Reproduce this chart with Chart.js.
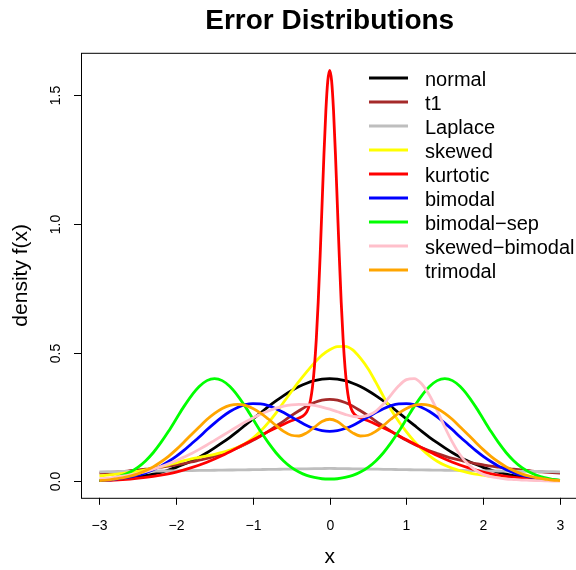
<!DOCTYPE html>
<html lang="en">
<head>
  <meta charset="UTF-8" />
  <title>Error Distributions</title>
  <script src="https://cdn.jsdelivr.net/npm/chart.js@4.4.1/dist/chart.umd.min.js"></script>
  <style>
    html, body {
      margin: 0;
      padding: 0;
      background: #ffffff;
      overflow: hidden;
    }
    /* the plot box runs just past the right edge, like the original */
    #wrap {
      width: 580px;
      height: 570px;
    }
  </style>
</head>
<body>
  <div id="wrap"><canvas id="densityChart" width="580" height="570"></canvas></div>

  <script>
    // x grid shared by the smooth curves
    const xGrid = [
      -3, -2.9, -2.8, -2.7, -2.6, -2.5, -2.4, -2.3, -2.2, -2.1,
      -2, -1.9, -1.8, -1.7, -1.6, -1.5, -1.4, -1.3, -1.2, -1.1,
      -1, -0.9, -0.8, -0.7, -0.6, -0.5, -0.4, -0.3, -0.2, -0.1,
      0, 0.1, 0.2, 0.3, 0.4, 0.5, 0.6, 0.7, 0.8, 0.9,
      1, 1.1, 1.2, 1.3, 1.4, 1.5, 1.6, 1.7, 1.8, 1.9,
      2, 2.1, 2.2, 2.3, 2.4, 2.5, 2.6, 2.7, 2.8, 2.9, 3
    ];

    const normal = [
      0.004, 0.006, 0.008, 0.010, 0.014, 0.018, 0.022, 0.028, 0.035, 0.044,
      0.054, 0.066, 0.079, 0.094, 0.111, 0.130, 0.150, 0.171, 0.194, 0.218,
      0.242, 0.266, 0.290, 0.312, 0.333, 0.352, 0.368, 0.381, 0.391, 0.397,
      0.399, 0.397, 0.391, 0.381, 0.368, 0.352, 0.333, 0.312, 0.290, 0.266,
      0.242, 0.218, 0.194, 0.171, 0.150, 0.130, 0.111, 0.094, 0.079, 0.066,
      0.054, 0.044, 0.035, 0.028, 0.022, 0.018, 0.014, 0.010, 0.008, 0.006, 0.004
    ];

    const t1 = [
      0.032, 0.034, 0.036, 0.038, 0.041, 0.044, 0.047, 0.051, 0.055, 0.059,
      0.064, 0.069, 0.075, 0.082, 0.089, 0.098, 0.108, 0.118, 0.130, 0.144,
      0.159, 0.176, 0.194, 0.214, 0.234, 0.255, 0.274, 0.292, 0.306, 0.315,
      0.318, 0.315, 0.306, 0.292, 0.274, 0.255, 0.234, 0.214, 0.194, 0.176,
      0.159, 0.144, 0.130, 0.118, 0.108, 0.098, 0.089, 0.082, 0.075, 0.069,
      0.064, 0.059, 0.055, 0.051, 0.047, 0.044, 0.041, 0.038, 0.036, 0.034, 0.032
    ];

    const laplace = [
      0.0370, 0.0374, 0.0378, 0.0382, 0.0385, 0.0389, 0.0393, 0.0397, 0.0401, 0.0405,
      0.0409, 0.0413, 0.0418, 0.0422, 0.0426, 0.0430, 0.0435, 0.0439, 0.0443, 0.0448,
      0.0452, 0.0457, 0.0462, 0.0466, 0.0471, 0.0476, 0.0480, 0.0485, 0.0490, 0.0495,
      0.0500, 0.0495, 0.0490, 0.0485, 0.0480, 0.0476, 0.0471, 0.0466, 0.0462, 0.0457,
      0.0452, 0.0448, 0.0443, 0.0439, 0.0435, 0.0430, 0.0426, 0.0422, 0.0418, 0.0413,
      0.0409, 0.0405, 0.0401, 0.0397, 0.0393, 0.0389, 0.0385, 0.0382, 0.0378, 0.0374, 0.0370
    ];

    const skewed = [
      0.021, 0.024, 0.027, 0.031, 0.035, 0.039, 0.044, 0.050, 0.057, 0.064,
      0.072, 0.080, 0.087, 0.093, 0.099, 0.105, 0.112, 0.121, 0.132, 0.147,
      0.168, 0.195, 0.228, 0.265, 0.307, 0.348, 0.388, 0.425, 0.460, 0.490,
      0.511, 0.523, 0.524, 0.510, 0.478, 0.437, 0.385, 0.330, 0.278, 0.232,
      0.192, 0.156, 0.125, 0.099, 0.078, 0.062, 0.050, 0.041, 0.034, 0.028,
      0.024, 0.020, 0.017, 0.014, 0.011, 0.009, 0.007, 0.005, 0.004, 0.003, 0.003
    ];

    const bimodal = [
      0.003, 0.005, 0.008, 0.012, 0.017, 0.024, 0.033, 0.045, 0.059, 0.077,
      0.097, 0.120, 0.146, 0.172, 0.200, 0.226, 0.250, 0.271, 0.287, 0.298,
      0.302, 0.301, 0.294, 0.282, 0.267, 0.250, 0.233, 0.217, 0.205, 0.197,
      0.194, 0.197, 0.205, 0.217, 0.233, 0.250, 0.267, 0.282, 0.294, 0.301,
      0.302, 0.298, 0.287, 0.271, 0.250, 0.226, 0.200, 0.172, 0.146, 0.120,
      0.097, 0.077, 0.059, 0.045, 0.033, 0.024, 0.017, 0.012, 0.008, 0.005, 0.003
    ];

    const bimodalSep = [
      0.004, 0.008, 0.014, 0.023, 0.036, 0.054, 0.079, 0.111, 0.150, 0.194,
      0.242, 0.290, 0.333, 0.368, 0.391, 0.399, 0.391, 0.368, 0.333, 0.290,
      0.242, 0.194, 0.150, 0.111, 0.079, 0.054, 0.036, 0.023, 0.015, 0.010,
      0.009, 0.010, 0.015, 0.023, 0.036, 0.054, 0.079, 0.111, 0.150, 0.194,
      0.242, 0.290, 0.333, 0.368, 0.391, 0.399, 0.391, 0.368, 0.333, 0.290,
      0.242, 0.194, 0.150, 0.111, 0.079, 0.054, 0.036, 0.023, 0.014, 0.008, 0.004
    ];

    const skewedBimodal = [
      0.010, 0.012, 0.016, 0.020, 0.025, 0.031, 0.038, 0.047, 0.057, 0.068,
      0.080, 0.094, 0.108, 0.124, 0.141, 0.159, 0.177, 0.195, 0.213, 0.230,
      0.246, 0.261, 0.273, 0.284, 0.292, 0.297, 0.299, 0.298, 0.295, 0.288,
      0.280, 0.270, 0.260, 0.252, 0.250, 0.256, 0.272, 0.300, 0.336, 0.371,
      0.395, 0.399, 0.378, 0.334, 0.275, 0.210, 0.151, 0.102, 0.067, 0.043,
      0.027, 0.018, 0.013, 0.009, 0.007, 0.005, 0.004, 0.003, 0.002, 0.001, 0.001
    ];

    const trimodal = [
      0.003, 0.005, 0.009, 0.013, 0.020, 0.029, 0.041, 0.056, 0.075, 0.097,
      0.123, 0.152, 0.182, 0.211, 0.240, 0.264, 0.283, 0.295, 0.299, 0.295,
      0.283, 0.265, 0.242, 0.217, 0.194, 0.179, 0.176, 0.188, 0.210, 0.232,
      0.241, 0.232, 0.210, 0.188, 0.176, 0.179, 0.194, 0.217, 0.242, 0.265,
      0.283, 0.295, 0.299, 0.295, 0.283, 0.264, 0.240, 0.211, 0.182, 0.152,
      0.123, 0.097, 0.075, 0.056, 0.041, 0.029, 0.020, 0.013, 0.009, 0.005, 0.003
    ];

    // the kurtotic curve has a narrow spike, so it gets a finer grid near 0
    const kurtX = [
      -3, -2.8, -2.6, -2.4, -2.2, -2, -1.8, -1.6, -1.4, -1.2, -1, -0.8, -0.6, -0.5, -0.4, -0.35,
      -0.3, -0.275, -0.25, -0.225, -0.2, -0.175, -0.15, -0.125, -0.1, -0.075, -0.05, -0.025,
      0,
      0.025, 0.05, 0.075, 0.1, 0.125, 0.15, 0.175, 0.2, 0.225, 0.25, 0.275, 0.3,
      0.35, 0.4, 0.5, 0.6, 0.8, 1, 1.2, 1.4, 1.6, 1.8, 2, 2.2, 2.4, 2.6, 2.8, 3
    ];
    const kurtotic = [
      0.003, 0.005, 0.009, 0.015, 0.024, 0.036, 0.053, 0.074, 0.100, 0.130, 0.161, 0.193, 0.222, 0.235, 0.246, 0.253,
      0.269, 0.286, 0.316, 0.365, 0.441, 0.550, 0.695, 0.873, 1.071, 1.269, 1.439, 1.555,
      1.596,
      1.555, 1.439, 1.269, 1.071, 0.873, 0.695, 0.550, 0.441, 0.365, 0.316, 0.286, 0.269,
      0.253, 0.246, 0.235, 0.222, 0.193, 0.161, 0.130, 0.100, 0.074, 0.053, 0.036, 0.024, 0.015, 0.009, 0.005, 0.003
    ];

    const seriesNames = ["normal", "t1", "Laplace", "skewed", "kurtotic", "bimodal", "bimodal\u2212sep", "skewed\u2212bimodal", "trimodal"];
    const seriesColors = ["#000000", "#A52A2A", "#BEBEBE", "#FFFF00", "#FF0000", "#0000FF", "#00FF00", "#FFC0CB", "#FFA500"];

    const xTicks = [-3, -2, -1, 0, 1, 2, 3];
    const xTickLabels = ["\u22123", "\u22122", "\u22121", "0", "1", "2", "3"];
    const yTicks = [0, 0.5, 1, 1.5];
    const yTickLabels = ["0.0", "0.5", "1.0", "1.5"];

    const FONT = "'Liberation Sans', Arial, Helvetica, sans-serif";

    const seriesValues = [normal, t1, laplace, skewed, kurtotic, bimodal, bimodalSep, skewedBimodal, trimodal];

    // build datasets; later series are drawn on top (as in R)
    const datasets = seriesValues.map(function (vals, i) {
      const xs = vals === kurtotic ? kurtX : xGrid;
      return {
        label: seriesNames[i],
        data: vals.map(function (v, j) { return { x: xs[j], y: v }; }),
        borderColor: seriesColors[i],
        backgroundColor: seriesColors[i],
        borderWidth: 2.8,
        pointRadius: 0,
        fill: false,
        cubicInterpolationMode: "monotone",
        order: seriesValues.length - 1 - i
      };
    });

    // R style box, axes, labels and legend
    const rStyle = {
      id: "rStyle",
      afterDraw(chart) {
        const ctx = chart.ctx;
        const a = chart.chartArea;
        const sx = chart.scales.x;
        const sy = chart.scales.y;
        ctx.save();
        ctx.strokeStyle = "#000";
        ctx.fillStyle = "#000";
        ctx.lineWidth = 1;
        ctx.strokeRect(a.left + 0.5, a.top + 0.5, a.right - a.left, a.bottom - a.top);

        // x axis
        ctx.font = "14px " + FONT;
        ctx.textAlign = "center";
        ctx.textBaseline = "alphabetic";
        xTicks.forEach(function (t, i) {
          const px = Math.round(sx.getPixelForValue(t)) + 0.5;
          ctx.beginPath();
          ctx.moveTo(px, a.bottom);
          ctx.lineTo(px, a.bottom + 7);
          ctx.stroke();
          ctx.fillText(xTickLabels[i], px, 530);
        });

        // y axis, labels read bottom to top
        yTicks.forEach(function (t, i) {
          const py = Math.round(sy.getPixelForValue(t)) + 0.5;
          ctx.beginPath();
          ctx.moveTo(a.left, py);
          ctx.lineTo(a.left - 7, py);
          ctx.stroke();
          ctx.save();
          ctx.translate(60, py);
          ctx.rotate(-Math.PI / 2);
          ctx.fillText(yTickLabels[i], 0, 0);
          ctx.restore();
        });

        // axis titles
        const midX = (a.left + a.right) / 2;
        ctx.font = "21px " + FONT;
        ctx.fillText("x", midX, 563);
        ctx.save();
        ctx.translate(27, (a.top + a.bottom) / 2);
        ctx.rotate(-Math.PI / 2);
        ctx.fillText("density f(x)", 0, 0);
        ctx.restore();

        // main title
        ctx.font = "bold 28px " + FONT;
        ctx.fillText("Error Distributions", midX, 29);

        // legend without a frame
        ctx.font = "20px " + FONT;
        ctx.textAlign = "left";
        seriesNames.forEach(function (name, i) {
          const rowY = 78 + 24 * i;
          ctx.strokeStyle = seriesColors[i];
          ctx.lineWidth = 2.8;
          ctx.beginPath();
          ctx.moveTo(369, rowY);
          ctx.lineTo(408, rowY);
          ctx.stroke();
          ctx.fillText(name, 425, rowY + 7.5);
        });
        ctx.restore();
      }
    };

    const chartCtx = document.getElementById("densityChart").getContext("2d");
    const densityChart = new Chart(chartCtx, {
      type: "line",
      data: { datasets: datasets },
      options: {
        responsive: false,
        animation: false,
        layout: { padding: { left: 81, right: 1.6, top: 52.8, bottom: 72.2 } },
        scales: {
          x: { type: "linear", min: -3.24, max: 3.24, display: false },
          y: { type: "linear", min: -0.064, max: 1.664, display: false }
        },
        plugins: {
          legend: { display: false },
          tooltip: { enabled: false },
          title: { display: false }
        }
      },
      plugins: [rStyle]
    });
  </script>
</body>
</html>
